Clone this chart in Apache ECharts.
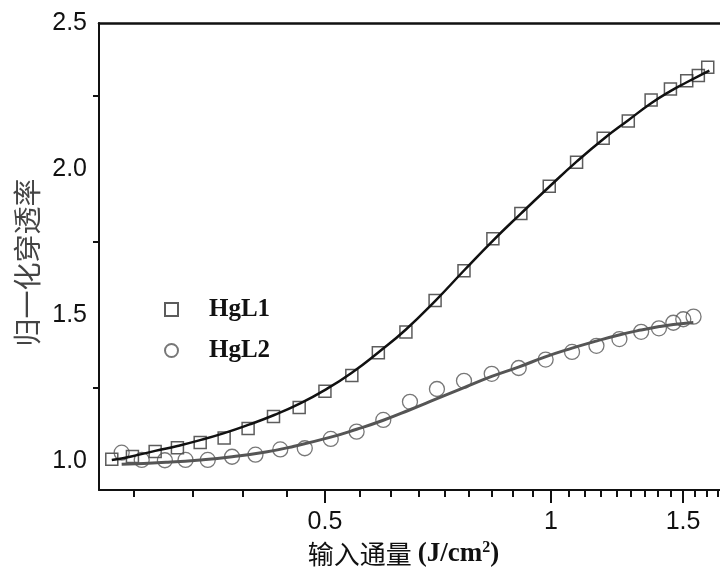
<!DOCTYPE html>
<html>
<head>
<meta charset="utf-8">
<script src="https://cdn.jsdelivr.net/npm/echarts@6/dist/echarts.min.js"></script>
<style>
  html, body { margin: 0; padding: 0; background: #fff; }
  #chart { width: 720px; height: 578px; }
</style>
</head>
<body>
<div id="chart"></div>
<script>
// HgL1 测量点 (方块)
var sqX = [0.260, 0.277, 0.297, 0.318, 0.341, 0.367, 0.395, 0.427, 0.462, 0.500, 0.543, 0.589, 0.641,
  0.701, 0.766, 0.837, 0.912, 0.995, 1.082, 1.174, 1.268, 1.360, 1.443, 1.517, 1.572, 1.618]
var sqY = [1.005, 1.015, 1.032, 1.045, 1.063, 1.078, 1.111, 1.152, 1.183, 1.238, 1.292, 1.370, 1.441,
  1.549, 1.651, 1.761, 1.847, 1.941, 2.023, 2.105, 2.164, 2.236, 2.274, 2.302, 2.320, 2.348]
// HgL2 测量点 (圆圈)
var ciX = [0.268, 0.285, 0.306, 0.326, 0.349, 0.376, 0.404, 0.436, 0.470, 0.509, 0.551, 0.598, 0.649,
  0.705, 0.766, 0.834, 0.906, 0.984, 1.067, 1.150, 1.234, 1.319, 1.393, 1.456, 1.501, 1.549]
var ciY = [1.028, 1.003, 1.002, 1.003, 1.003, 1.014, 1.021, 1.039, 1.043, 1.075, 1.100, 1.140, 1.202,
  1.246, 1.274, 1.298, 1.318, 1.347, 1.373, 1.394, 1.417, 1.442, 1.454, 1.473, 1.485, 1.494]
// 拟合曲线
var fit1X = [0.260, 0.276, 0.297, 0.318, 0.340, 0.367, 0.396, 0.428, 0.462, 0.501, 0.543, 0.590, 0.641,
  0.702, 0.766, 0.836, 0.912, 0.995, 1.082, 1.174, 1.268, 1.360, 1.441, 1.517, 1.626]
var fit1Y = [1.003, 1.015, 1.034, 1.051, 1.070, 1.095, 1.124, 1.157, 1.195, 1.244, 1.302, 1.373, 1.450,
  1.549, 1.652, 1.753, 1.847, 1.939, 2.025, 2.102, 2.167, 2.225, 2.266, 2.297, 2.337]
var fit2X = [0.268, 0.307, 0.341, 0.376, 0.417, 0.455, 0.509, 0.551, 0.598, 0.649, 0.705, 0.766, 0.834,
  0.907, 0.985, 1.067, 1.152, 1.236, 1.318, 1.395, 1.456, 1.548]
var fit2Y = [0.988, 0.995, 1.003, 1.014, 1.030, 1.050, 1.081, 1.108, 1.139, 1.175, 1.213, 1.251, 1.289,
  1.322, 1.357, 1.386, 1.411, 1.432, 1.448, 1.460, 1.467, 1.474]
// 刻度
var xLabels = [0.5, 1, 1.5]
var xMinorTicks = [5, 6, 7, 8, 10, 11, 12, 13, 14, 15, 16, 17, 19, 20, 21, 22, 23, 24, 25, 26, 28, 29, 30]
  .map(function (k) { return k / 18 })
var yLabels = [1.0, 1.5, 2.0, 2.5]
var yMinorTicks = [1.25, 1.75, 2.25]

function zip (xs, ys) {
  return xs.map(function (x, i) { return [x, ys[i]] })
}

var chart = echarts.init(document.getElementById('chart'))
var xMin = 0.25
var xMax = 1.68

var option = {
  animation: false,
  backgroundColor: '#fff',
  grid: { left: 99, right: 0, top: 23, bottom: 88 },
  legend: {
    orient: 'vertical',
    left: 159,
    top: 292,
    itemWidth: 13,
    itemHeight: 13,
    itemGap: 16,
    data: ['HgL1', 'HgL2'],
    textStyle: {
      fontFamily: 'Liberation Serif',
      fontWeight: 'bold',
      fontSize: 25,
      color: '#111',
      padding: [0, 0, 0, 26]
    }
  },
  xAxis: [{
    type: 'log',
    logBase: 10,
    min: xMin,
    max: xMax,
    position: 'bottom',
    axisLine: { show: true, lineStyle: { color: '#111', width: 2 } },
    axisTick: { show: true, length: 13, lineStyle: { color: '#111', width: 2 }, customValues: xLabels },
    axisLabel: {
      customValues: xLabels,
      margin: 20,
      fontFamily: 'Liberation Sans',
      fontSize: 25,
      color: '#111',
      formatter: function (v) { return String(Math.round(v * 10) / 10) }
    },
    splitLine: { show: false },
    name: '{cn|输入通量 }{en|(J/cm}{sup|2}{en|)}',
    nameLocation: 'middle',
    nameGap: 48,
    nameTextStyle: {
      padding: [0, 12, 0, 0],
      rich: {
        cn: { fontFamily: 'Noto Sans CJK SC', fontSize: 26, color: '#111' },
        en: { fontFamily: 'Liberation Serif', fontWeight: 'bold', fontSize: 27, color: '#111' },
        sup: { fontFamily: 'Liberation Serif', fontWeight: 'bold', fontSize: 16, color: '#111', padding: [0, 0, 13, 0] }
      }
    }
  }, {
    type: 'log',
    logBase: 10,
    min: xMin,
    max: xMax,
    position: 'bottom',
    axisLine: { show: false },
    axisTick: { show: true, length: 7, lineStyle: { color: '#111', width: 2 }, customValues: xMinorTicks },
    axisLabel: { show: false },
    splitLine: { show: false }
  }, {
    type: 'value',
    min: 0,
    max: 1,
    position: 'top',
    axisLine: { show: true, lineStyle: { color: '#111', width: 2.5 } },
    axisTick: { show: false },
    axisLabel: { show: false },
    splitLine: { show: false }
  }],
  yAxis: {
    type: 'value',
    min: 0.9,
    max: 2.5,
    axisLine: { show: true, lineStyle: { color: '#111', width: 2 } },
    axisTick: { show: true, length: 6, lineStyle: { color: '#111', width: 2 }, customValues: yMinorTicks },
    axisLabel: {
      customValues: yLabels,
      margin: 12,
      fontFamily: 'Liberation Sans',
      fontSize: 25,
      color: '#111',
      formatter: function (v) { return v.toFixed(1) }
    },
    splitLine: { show: false },
    name: '归一化穿透率',
    nameLocation: 'middle',
    nameGap: 57,
    nameTextStyle: { fontFamily: 'Noto Sans CJK SC', fontSize: 28, color: '#444', padding: [0, 12, 0, 0] }
  },
  series: [{
    name: 'HgL1',
    type: 'scatter',
    symbol: 'rect',
    symbolSize: 12,
    itemStyle: { color: 'rgba(255,255,255,0)', borderColor: '#333', borderWidth: 1.5 },
    data: zip(sqX, sqY),
    z: 2
  }, {
    name: 'HgL2',
    type: 'scatter',
    symbol: 'circle',
    symbolSize: 15,
    itemStyle: { color: 'rgba(255,255,255,0)', borderColor: '#555', borderWidth: 1.3 },
    data: zip(ciX, ciY),
    z: 2
  }, {
    name: 'fit1',
    type: 'line',
    smooth: true,
    showSymbol: false,
    lineStyle: { color: '#111', width: 2.5 },
    data: zip(fit1X, fit1Y),
    z: 3
  }, {
    name: 'fit2',
    type: 'line',
    smooth: true,
    showSymbol: false,
    lineStyle: { color: '#555', width: 3 },
    data: zip(fit2X, fit2Y),
    z: 3
  }]
}
chart.setOption(option)
</script>
</body>
</html>
